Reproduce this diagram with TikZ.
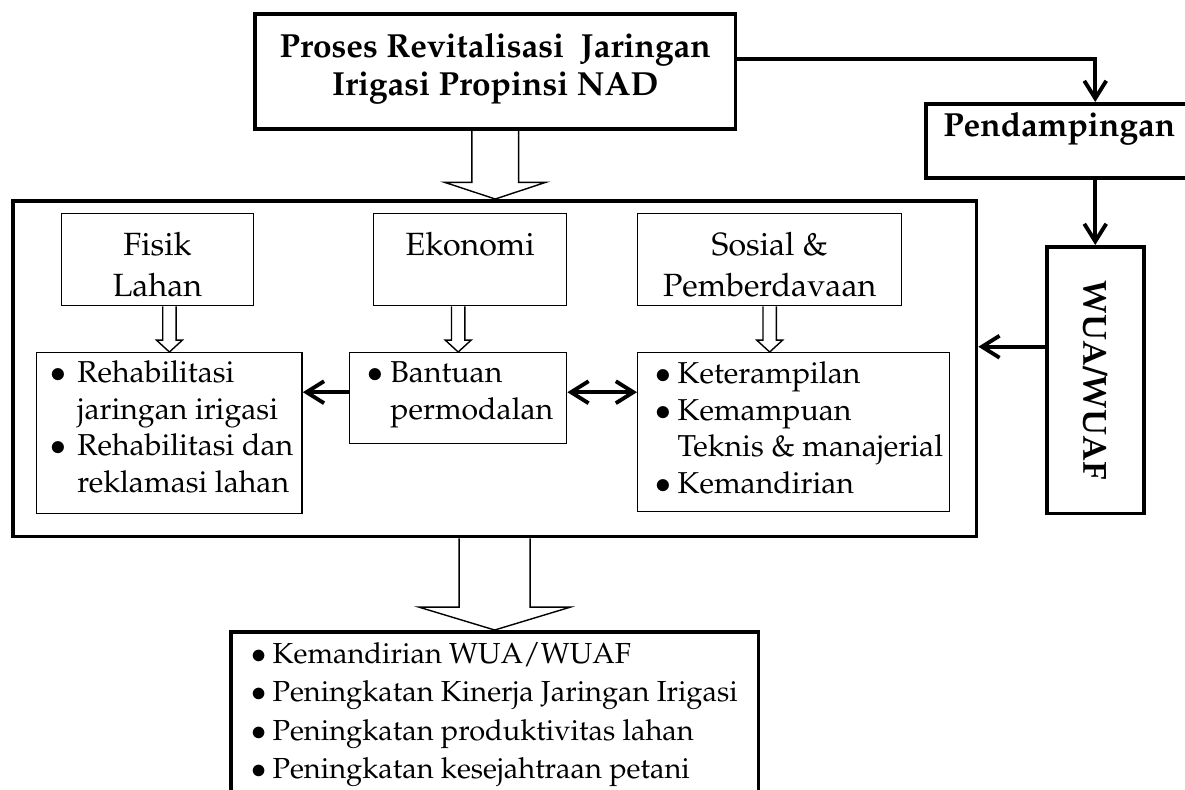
\documentclass[tikz,border=0pt]{standalone}
\usepackage[T1]{fontenc}
\usepackage{mathpazo}
\usetikzlibrary{arrows.meta,calc}

\tikzset{
  thick box/.style={draw, line width=2pt, inner sep=0pt, anchor=north west},
  thin box/.style={draw, line width=0.8pt, inner sep=0pt, anchor=north west},
  conn/.style={line width=2.2pt, -{Straight Barb[length=10pt,width=12.5pt]}},
  hollow/.style={draw, line width=0.8pt},
  titlefont/.style={font=\fontsize{19}{21.5}\selectfont\bfseries},
  headfont/.style={font=\fontsize{18.3}{23.2}\selectfont},
  bodyfont/.style={font=\fontsize{17.2}{20.8}\selectfont},
}
\newlength{\bulw}
\newcommand{\bul}{\makebox[\bulw][c]{$\bullet$}}
\newcommand{\cont}{\hspace*{\bulw}}
\newcommand{\strutto}[1]{\rule{0pt}{#1}}
% width, height, paragraph settings, text
\newcommand{\inbox}[4]{\parbox[c][#2][t]{#1}{#3#4}}
% start, end, half shaft, half head, head length
\newcommand{\hollowarrow}[5]{%
  \draw[hollow] let \p1=#1, \p2=#2 in
    (\x1-#3,\y1) -- (\x1-#3,\y2+#5) -- (\x1-#4,\y2+#5) -- (\x1,\y2)
    -- (\x1+#4,\y2+#5) -- (\x1+#3,\y2+#5) -- (\x1+#3,\y1);}

\begin{document}
\begin{tikzpicture}[x=0.02cm, y=-0.02cm]
\useasboundingbox (0,0) rectangle (1185,789);

% top row
\node[thick box, titlefont] (proses) at (253,12)
  {\inbox{9.62cm}{2.3cm}{\centering}{\strutto{25pt}Proses Revitalisasi\ \ Jaringan\\ Irigasi Propinsi NAD}};
\node[thick box, titlefont] (pend) at (924,102)
  {\inbox{5.34cm}{1.48cm}{\centering}{\strutto{18.7pt}Pendampingan}};
\node[thick box, minimum width=1.94cm, minimum height=5.34cm, titlefont] (wua) at (1045,245)
  {\rotatebox{-90}{WUA/WUAF}};

% main frame
\node[thick box, minimum width=19.28cm, minimum height=6.72cm] (big) at (11,199) {};

% aspects
\node[thin box, headfont] (fisik) at (60.5,213)
  {\inbox{3.85cm}{1.84cm}{\centering}{\strutto{23.8pt}Fisik\\ Lahan}};
\node[thin box, headfont] (ekon) at (373,213)
  {\inbox{3.86cm}{1.84cm}{\centering}{\strutto{23.8pt}Ekonomi}};
\node[thin box, headfont] (sosial) at (637,213)
  {\inbox{5.28cm}{1.84cm}{\centering}{\strutto{23.8pt}Sosial \&\\ Pemberdavaan}};

% programmes
\node[thin box, bodyfont] (rehab) at (36,352)
  {\inbox{5.31cm}{3.22cm}{\raggedright\leftskip=1.2pt\setlength{\bulw}{22pt}}{\strutto{17pt}\bul Rehabilitasi\\
   \cont jaringan irigasi\\ \bul Rehabilitasi dan\\ \cont reklamasi lahan}};
\node[thin box, bodyfont] (bant) at (349,352)
  {\inbox{4.34cm}{1.82cm}{\raggedright\leftskip=6.2pt\setlength{\bulw}{17pt}}{\strutto{17pt}\bul Bantuan\\ \cont permodalan}};
\node[thin box, bodyfont] (ket) at (637,352)
  {\inbox{6.24cm}{3.18cm}{\raggedright\leftskip=6.7pt\setlength{\bulw}{16pt}}{\strutto{17.6pt}\bul Keterampilan\\
   \bul Kemampuan\\ \cont Teknis \& manajerial\\ \bul Kemandirian}};

% result
\node[thick box, font=\fontsize{16.5}{21.8}\selectfont] (hasil) at (229,630)
  {\inbox{10.56cm}{3.4cm}{\raggedright\leftskip=8pt\setlength{\bulw}{15.8pt}}{\strutto{18pt}\bul Kemandirian WUA/WUAF\\
   \bul Peningkatan Kinerja Jaringan Irigasi\\ \bul Peningkatan produktivitas lahan\\
   \bul Peningkatan kesejahtraan petani}};

% hollow arrows
\hollowarrow{(proses.south)}{(big.north)}{13.3pt}{28.8pt}{9.5pt}
\hollowarrow{(big.south)}{(hasil.north)}{20.2pt}{43pt}{13pt}
\hollowarrow{(rehab.north |- fisik.south)}{(rehab.north)}{3.8pt}{7.4pt}{6.8pt}
\hollowarrow{(bant.north |- ekon.south)}{(bant.north)}{3.8pt}{7.4pt}{6.8pt}
\hollowarrow{(sosial.south)}{(sosial.south |- ket.north)}{3.8pt}{7.4pt}{6.8pt}

% connectors
\coordinate (prosesout) at ($(proses.east)+(0,-12.5)$);
\coordinate (wuaout) at ($(wua.west)+(0,-33.5)$);
\coordinate (bantl) at ($(bant.west)+(0,-6)$);
\coordinate (bantr) at ($(bant.east)+(0,-6)$);
\draw[conn] (prosesout) -| (wua.north |- pend.north);
\draw[conn] (wua.north |- pend.south) -- (wua.north);
\draw[conn] (wuaout) -- (wuaout -| big.east);
\draw[conn] (bantl) -- (bantl -| rehab.east);
\draw[conn, {Straight Barb[length=10pt,width=12.5pt]}-{Straight Barb[length=10pt,width=12.5pt]}] (bantr) -- (bantr -| ket.west);
\end{tikzpicture}
\end{document}
